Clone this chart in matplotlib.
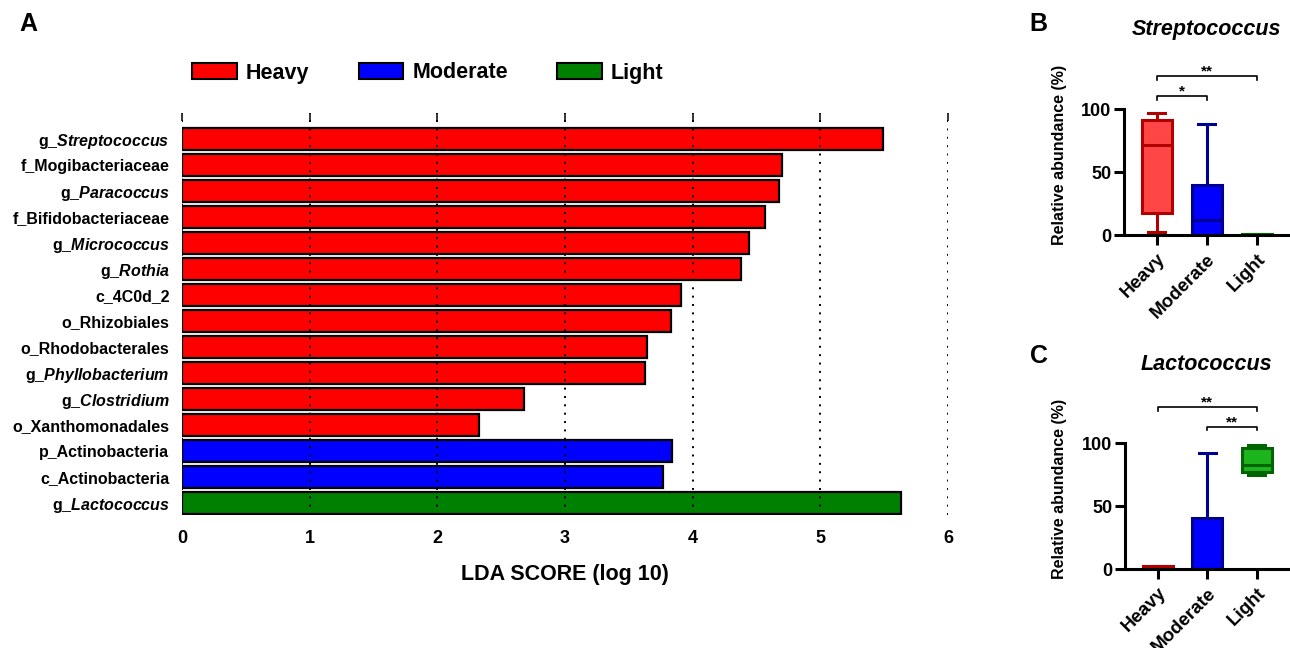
import matplotlib.pyplot as plt
from matplotlib.patches import Patch

plt.rcParams['font.family'] = ['Liberation Sans', 'DejaVu Sans']
plt.rcParams['mathtext.fontset'] = 'custom'
plt.rcParams['mathtext.it'] = 'Liberation Sans:italic:bold'
plt.rcParams['mathtext.rm'] = 'Liberation Sans:bold'

# LEfSe results: taxon labels, LDA scores and the group each one is enriched in
taxa = ['g_$\\mathit{Streptococcus}$', 'f_Mogibacteriaceae', 'g_$\\mathit{Paracoccus}$',
        'f_Bifidobacteriaceae', 'g_$\\mathit{Micrococcus}$', 'g_$\\mathit{Rothia}$',
        'c_4C0d_2', 'o_Rhizobiales', 'o_Rhodobacterales', 'g_$\\mathit{Phyllobacterium}$',
        'g_$\\mathit{Clostridium}$', 'o_Xanthomonadales', 'p_Actinobacteria',
        'c_Actinobacteria', 'g_$\\mathit{Lactococcus}$']
lda_scores = [5.49, 4.70, 4.68, 4.57, 4.44, 4.38, 3.91, 3.83, 3.64, 3.63,
              2.68, 2.33, 3.84, 3.77, 5.63]
enriched_in = ['Heavy'] * 12 + ['Moderate'] * 2 + ['Light']

groups = ['Heavy', 'Moderate', 'Light']
bar_colors = {'Heavy': '#FF0000', 'Moderate': '#0000FF', 'Light': '#008000'}
box_fill = {'Heavy': '#FF4646', 'Moderate': '#0000FF', 'Light': '#1DB41D'}
box_edge = {'Heavy': '#B00000', 'Moderate': '#000090', 'Light': '#006400'}

# relative abundance summaries (whislo, q1, median, q3, whishi) per group
strep_whislo = [2.4, 0.0, 0.2]
strep_q1 = [18.0, 0.3, 0.4]
strep_med = [71.5, 12.0, 0.7]
strep_q3 = [91.3, 40.0, 1.0]
strep_whishi = [96.6, 88.0, 1.2]

lacto_whislo = [0.3, 0.0, 74.5]
lacto_q1 = [0.8, 0.2, 77.0]
lacto_med = [1.5, 0.5, 82.8]
lacto_q3 = [2.3, 40.5, 96.0]
lacto_whishi = [3.0, 92.0, 99.0]

# significance brackets: (group a, group b, height, stars)
strep_sig = [(0, 1, 110.5, '*'), (0, 2, 126.0, '**')]
lacto_sig = [(0, 2, 128.6, '**'), (1, 2, 113.2, '**')]

W, H = 1290, 648
fig = plt.figure(figsize=(W / 100, H / 100), dpi=100)


def px_axes(left, top, right, bottom):
    return fig.add_axes([left / W, 1 - bottom / H, (right - left) / W, (bottom - top) / H])


# ---- panel A: LDA bar chart ----
ax = px_axes(182, 113, 948, 515)
ypos = list(range(len(taxa)))
ax.barh(ypos, lda_scores, height=0.82, color=[bar_colors[g] for g in enriched_in],
        edgecolor='black', linewidth=1.6, zorder=1)
ax.set_axisbelow(False)
ax.set_xlim(0, 6)
ax.set_ylim(14.46, -1.0)
ax.set_yticks(ypos)
ax.set_yticklabels(taxa, fontsize=11.5, fontweight='bold')
ax.set_xticks(range(7))
ax.set_xticklabels([str(i) for i in range(7)], fontsize=13, fontweight='bold')
ax.tick_params(axis='y', length=0, pad=9)
ax.tick_params(axis='x', bottom=False, top=True, direction='in', length=6, width=1.1, pad=11)
ax.grid(axis='x', color='black', linestyle=(0, (1, 3.3)), linewidth=1.4)
for s in ax.spines.values():
    s.set_visible(False)
ax.set_xlabel('LDA SCORE (log 10)', fontsize=15.5, fontweight='bold', labelpad=12)

handles = [Patch(facecolor=bar_colors[g], edgecolor='black', linewidth=1.5) for g in groups]
fig.legend(handles, groups, loc='center left', bbox_to_anchor=(192 / W, 1 - 73 / H),
           ncol=3, frameon=False, handlelength=2.07, handleheight=0.77, handletextpad=0.42,
           columnspacing=2.3, borderpad=0, borderaxespad=0,
           prop={'weight': 'bold', 'size': 15.5})


# ---- panels B and C: box plots ----
def box_panel(ax, whislo, q1, med, q3, whishi, sig, title_y, title):
    stats = []
    for i in range(3):
        stats.append({'whislo': whislo[i], 'q1': q1[i], 'med': med[i], 'q3': q3[i],
                      'whishi': whishi[i], 'fliers': []})
    art = ax.bxp(stats, positions=[0, 1, 2], widths=0.6, capwidths=0.34,
                 patch_artist=True, showfliers=False)
    for i, g in enumerate(groups):
        art['boxes'][i].set(facecolor=box_fill[g], edgecolor=box_edge[g], linewidth=2.2)
        art['medians'][i].set(color=box_edge[g], linewidth=2.2)
        for ln in art['whiskers'][2 * i:2 * i + 2] + art['caps'][2 * i:2 * i + 2]:
            ln.set(color=box_edge[g], linewidth=2.2)
    ax.set_xlim(-0.66, 2.67)
    ax.set_ylim(0, 100)
    ax.set_yticks([0, 50, 100])
    ax.set_yticklabels(['0', '50', '100'], fontsize=13, fontweight='bold')
    ax.set_xticks([0, 1, 2])
    ax.set_xticklabels(groups, fontsize=13.5, fontweight='bold', rotation=45,
                       ha='right', rotation_mode='anchor')
    ax.tick_params(axis='both', length=7, width=2.2, pad=2)
    ax.tick_params(axis='x', pad=4)
    for s in ['top', 'right']:
        ax.spines[s].set_visible(False)
    for s in ['left', 'bottom']:
        ax.spines[s].set_linewidth(2.2)
    ax.set_ylabel('Relative abundance (%)', fontsize=11.5, fontweight='bold')
    for a, b, y, stars in sig:
        ax.plot([a, a, b, b], [y - 3, y, y, y - 3], color='black', linewidth=1.2, clip_on=False)
        ax.text((a + b) / 2, y + 0.5, stars, ha='center', va='baseline', fontsize=11,
                fontweight='bold', clip_on=False)
    fig.text(1206 / W, 1 - title_y / H, title, ha='center', va='center', fontsize=15.5,
             fontweight='bold', fontstyle='italic')


axB = px_axes(1124, 109, 1290, 235.3)
box_panel(axB, strep_whislo, strep_q1, strep_med, strep_q3, strep_whishi, strep_sig,
          30, 'Streptococcus')
axB.yaxis.set_label_coords(-0.345, 0.636)

axC = px_axes(1125, 443.3, 1290, 569.3)
box_panel(axC, lacto_whislo, lacto_q1, lacto_med, lacto_q3, lacto_whishi, lacto_sig,
          365, 'Lactococcus')
axC.yaxis.set_label_coords(-0.35, 0.641)

for letter, x, y in [('A', 19, 31), ('B', 1029, 31), ('C', 1030, 363)]:
    fig.text(x / W, 1 - y / H, letter, fontsize=18, fontweight='bold', va='baseline')

fig.savefig('out.png', dpi=100)
